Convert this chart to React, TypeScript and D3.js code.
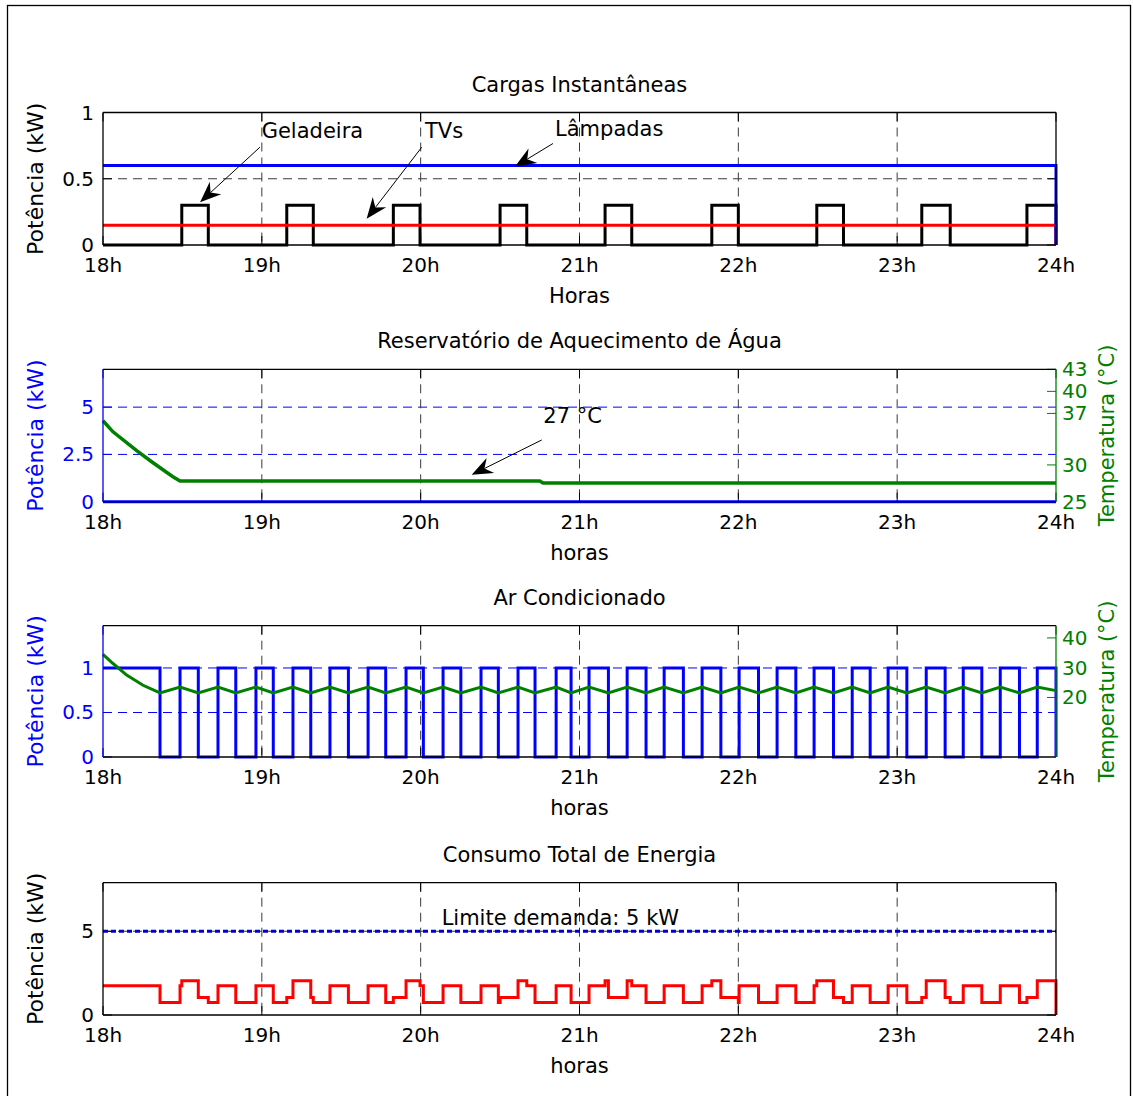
import React from 'react';
import * as d3 from 'd3';

// ---------- data ----------
const hourTicks = [18, 19, 20, 21, 22, 23, 24];
const hourLabels = ['18h', '19h', '20h', '21h', '22h', '23h', '24h'];

// Panel 1: Cargas instantâneas (kW)
const lampKW = 0.6;
const tvKW = 0.15;
const fridgeKW = 0.3;
const fridgeOn: [number, number][] = [
  [18.496, 18.663], [19.157, 19.324], [19.828, 19.996], [20.5, 20.668],
  [21.161, 21.329], [21.833, 22.0], [22.494, 22.662], [23.155, 23.334], [23.817, 24.0],
];

// Panel 2: Reservatório de aquecimento de água
const waterKW = 0;
const waterTemp: [number, number][] = [
  [18.0, 36.0], [18.063, 34.5], [18.214, 31.9], [18.315, 30.3], [18.44, 28.4],
  [18.485, 27.8], [20.75, 27.8], [20.77, 27.55], [24.0, 27.55],
];

// Panel 3: Ar condicionado
const acKW = 1;
const acOn: [number, number][] = [
  [18.0, 18.359], [18.485, 18.6], [18.724, 18.836], [18.963, 19.072], [19.196, 19.308],
  [19.429, 19.545], [19.669, 19.78], [19.908, 20.017], [20.141, 20.253], [20.38, 20.489],
  [20.613, 20.72], [20.853, 20.947], [21.06, 21.182], [21.3, 21.419], [21.533, 21.654],
  [21.772, 21.89], [22.005, 22.127], [22.244, 22.362], [22.477, 22.599], [22.717, 22.83],
  [22.943, 23.061], [23.183, 23.302], [23.416, 23.533], [23.649, 23.77], [23.882, 24.0],
];
const acTemp: [number, number][] = [
  [18.0, 34.5], [18.063, 31.4], [18.149, 27.5], [18.252, 24.1], [18.359, 21.5],
  [18.485, 23.5], [18.6, 21.5], [18.724, 23.5], [18.836, 21.5], [18.963, 23.5], [19.072, 21.5],
  [19.196, 23.5], [19.308, 21.5], [19.429, 23.5], [19.545, 21.5], [19.669, 23.5], [19.78, 21.5],
  [19.908, 23.5], [20.017, 21.5], [20.141, 23.5], [20.253, 21.5], [20.38, 23.5], [20.489, 21.5],
  [20.613, 23.5], [20.72, 21.5], [20.853, 23.5], [20.947, 21.5], [21.06, 23.5], [21.182, 21.5],
  [21.3, 23.5], [21.419, 21.5], [21.533, 23.5], [21.654, 21.5], [21.772, 23.5], [21.89, 21.5],
  [22.005, 23.5], [22.127, 21.5], [22.244, 23.5], [22.362, 21.5], [22.477, 23.5], [22.599, 21.5],
  [22.717, 23.5], [22.83, 21.5], [22.943, 23.5], [23.061, 21.5], [23.183, 23.5], [23.302, 21.5],
  [23.416, 23.5], [23.533, 21.5], [23.649, 23.5], [23.77, 21.5], [23.882, 23.5], [24.0, 22.3],
];

// Panel 4: Consumo total
const demandLimitKW = 5;

// axis ticks
const p1Ticks = [0, 0.5, 1];
const p1TickLabels = ['0', '0.5', '1'];
const p2Ticks = [0, 2.5, 5];
const p2TickLabels = ['0', '2.5', '5'];
const p2TempTicks = [25, 30, 37, 40, 43];
const p3Ticks = [0, 0.5, 1];
const p3TickLabels = ['0', '0.5', '1'];
const p3TempTicks = [20, 30, 40];
const p4Ticks = [0, 5];

// ---------- helpers ----------
const T0 = 18, T1 = 24;
const isOn = (iv: [number, number][], t: number) => iv.some(([s, e]) => t >= s && t < e);

function stepSeries(breaks: number[], f: (t: number) => number): [number, number][] {
  const bs = Array.from(new Set([T0, ...breaks, T1])).sort((a, b) => a - b);
  const pts: [number, number][] = [];
  let prev = 0;
  bs.forEach((t, i) => {
    const v = t >= T1 ? 0 : f(t);
    if (i > 0) pts.push([t, prev]);
    pts.push([t, v]);
    prev = v;
  });
  return pts;
}
const flat = (iv: [number, number][]) => iv.flat();

const lampSeries = stepSeries([], () => lampKW);
const tvSeries = stepSeries([], () => tvKW);
const fridgeSeries = stepSeries(flat(fridgeOn), (t) => (isOn(fridgeOn, t) ? fridgeKW : 0));
const waterSeries = stepSeries([], () => waterKW);
const acSeries = stepSeries(flat(acOn), (t) => (isOn(acOn, t) ? acKW : 0));
const totalSeries = stepSeries([...flat(fridgeOn), ...flat(acOn)], (t) =>
  lampKW + tvKW + waterKW + (isOn(fridgeOn, t) ? fridgeKW : 0) + (isOn(acOn, t) ? acKW : 0));

// ---------- layout ----------
const X0 = 103, X1 = 1056;
const x = d3.scaleLinear().domain([T0, T1]).range([X0, X1]);
const FONT = 'DejaVu Sans';
const TICK_FS = 20;
const LAB_FS = 21;
const YLAB_FS = 22;
const BLUE = '#0000FF', GREEN = '#008000', RED = '#FF0000';
const GRID = '#3a3a3a';
const TL = 9;

const panels = [
  { top: 112.5, bottom: 245 },
  { top: 369.3, bottom: 501.7 },
  { top: 625.7, bottom: 757 },
  { top: 882.7, bottom: 1015 },
];

const y1 = d3.scaleLinear().domain([0, 1]).range([panels[0].bottom, panels[0].top]);
const y2 = d3.scaleLinear().domain([0, 7]).range([panels[1].bottom, panels[1].top]);
const y2t = d3.scaleLinear().domain([25, 43]).range([panels[1].bottom, panels[1].top]);
const y3 = d3.scaleLinear().domain([0, 1.475]).range([panels[2].bottom, panels[2].top]);
const y3t = d3.scaleLinear().domain([0, 44.1]).range([panels[2].bottom, panels[2].top]);
const y4 = d3.scaleLinear().domain([0, 7.9]).range([panels[3].bottom, panels[3].top]);

const path = (pts: [number, number][], ys: d3.ScaleLinear<number, number>) =>
  d3.line<[number, number]>().x((d) => x(d[0])).y((d) => ys(d[1]))(pts) || '';

function Arrow({ x1, y1: yy1, x2, y2: yy2 }: { x1: number; y1: number; x2: number; y2: number }) {
  const L = 21, w = 8.5;
  const dx = x2 - x1, dy = yy2 - yy1;
  const len = Math.hypot(dx, dy);
  const ux = dx / len, uy = dy / len;
  const nx = -uy, ny = ux;
  const bx = x2 - L * ux, by = yy2 - L * uy;
  const mx = x2 - 0.68 * L * ux, my = yy2 - 0.68 * L * uy;
  const head = `M${x2},${yy2}L${bx + w * nx},${by + w * ny}L${mx},${my}L${bx - w * nx},${by - w * ny}Z`;
  return (
    <g>
      <line x1={x1} y1={yy1} x2={mx} y2={my} stroke="#000" strokeWidth={1} />
      <path d={head} fill="#000" />
    </g>
  );
}

function XAxis({ top, bottom, label }: { top: number; bottom: number; label: string }) {
  return (
    <g>
      {hourTicks.slice(1, -1).map((t) => (
        <line key={'g' + t} x1={x(t)} x2={x(t)} y1={top} y2={bottom} stroke={GRID} strokeWidth={1} strokeDasharray="9,6" />
      ))}
      {hourTicks.map((t) => (
        <g key={'t' + t}>
          <line x1={x(t)} x2={x(t)} y1={bottom} y2={bottom - TL} stroke="#000" />
          <line x1={x(t)} x2={x(t)} y1={top} y2={top + TL} stroke="#000" />
        </g>
      ))}
      {hourTicks.map((t, i) => (
        <text key={'l' + t} x={x(t)} y={bottom + 27} textAnchor="middle" fontSize={TICK_FS} fontFamily={FONT}>{hourLabels[i]}</text>
      ))}
      <text x={(X0 + X1) / 2} y={bottom + 58} textAnchor="middle" fontSize={LAB_FS} fontFamily={FONT}>{label}</text>
    </g>
  );
}

function Title({ top, text }: { top: number; text: string }) {
  return <text x={(X0 + X1) / 2} y={top - 21} textAnchor="middle" fontSize={LAB_FS} fontFamily={FONT}>{text}</text>;
}

function YLabel({ top, bottom, text, color, right }: { top: number; bottom: number; text: string; color: string; right?: boolean }) {
  const cx = right ? 1114 : 43;
  const cy = (top + bottom) / 2;
  return (
    <text transform={`translate(${cx},${cy}) rotate(-90)`} textAnchor="middle" fontSize={right ? LAB_FS : YLAB_FS} fontFamily={FONT} fill={color}>{text}</text>
  );
}

function LeftTicks({ ys, ticks, labels, color, grid, gridColor, mirror }: any) {
  return (
    <g>
      {grid && ticks.filter((t: number) => ys(t) > ys.range()[1] + 1 && ys(t) < ys.range()[0] - 1).map((t: number) => (
        <line key={'g' + t} x1={X0} x2={X1} y1={ys(t)} y2={ys(t)} stroke={gridColor} strokeWidth={1} strokeDasharray="9,6" />
      ))}
      {ticks.map((t: number, i: number) => (
        <g key={'t' + t}>
          <line x1={X0} x2={X0 + TL} y1={ys(t)} y2={ys(t)} stroke={color} />
          {mirror && <line x1={X1} x2={X1 - TL} y1={ys(t)} y2={ys(t)} stroke={color} />}
          <text x={X0 - 9} y={ys(t) + 7} textAnchor="end" fontSize={TICK_FS} fontFamily={FONT} fill={color}>{labels[i]}</text>
        </g>
      ))}
    </g>
  );
}

function RightTicks({ ys, ticks }: any) {
  return (
    <g>
      {ticks.map((t: number) => (
        <g key={'r' + t}>
          <line x1={X1} x2={X1 - TL} y1={ys(t)} y2={ys(t)} stroke={GREEN} />
          <text x={X1 + 6} y={ys(t) + 7} textAnchor="start" fontSize={TICK_FS} fontFamily={FONT} fill={GREEN}>{t}</text>
        </g>
      ))}
    </g>
  );
}

function Box({ top, bottom, left, right }: { top: number; bottom: number; left: string; right: string }) {
  return (
    <g>
      <line x1={X0} x2={X1} y1={top} y2={top} stroke="#000" strokeWidth={1.3} />
      <line x1={X0} x2={X1} y1={bottom} y2={bottom} stroke="#000" strokeWidth={1.3} />
      <line x1={X0} x2={X0} y1={top} y2={bottom} stroke={left} strokeWidth={1.3} />
      <line x1={X1} x2={X1} y1={top} y2={bottom} stroke={right} strokeWidth={1.3} />
    </g>
  );
}

export default function App() {
  const [p1, p2, p3, p4] = panels;
  return (
    <svg width={1133} height={1096} style={{ position: 'absolute', left: 0, top: 0, background: '#fff' }}>
      <rect x={0} y={0} width={1133} height={1096} fill="#fff" />
      <rect x={7.5} y={5.5} width={1123} height={1100} fill="none" stroke="#000" strokeWidth={1.3} />

      {/* Panel 1 */}
      <Title top={p1.top} text="Cargas Instantâneas" />
      <LeftTicks ys={y1} ticks={p1Ticks} labels={p1TickLabels} color="#000" grid gridColor={GRID} mirror />
      <XAxis top={p1.top} bottom={p1.bottom} label="Horas" />
      <path d={path(fridgeSeries, y1)} fill="none" stroke="#000" strokeWidth={3} />
      <path d={path(tvSeries, y1)} fill="none" stroke={RED} strokeWidth={3} />
      <path d={path(lampSeries, y1)} fill="none" stroke={BLUE} strokeWidth={3} />
      <Box top={p1.top} bottom={p1.bottom} left="#000" right="#000" />
      <YLabel top={p1.top} bottom={p1.bottom} text="Potência (kW)" color="#000" />
      <text x={x(18.999)} y={y1(0.811)} fontSize={LAB_FS} fontFamily={FONT}>Geladeira</text>
      <Arrow x1={x(18.988)} y1={y1(0.738)} x2={x(18.611)} y2={y1(0.323)} />
      <text x={x(20.027)} y={y1(0.811)} fontSize={LAB_FS} fontFamily={FONT}>TVs</text>
      <Arrow x1={x(20.007)} y1={y1(0.738)} x2={x(19.66)} y2={y1(0.198)} />
      <text x={x(20.846)} y={y1(0.825)} fontSize={LAB_FS} fontFamily={FONT}>Lâmpadas</text>
      <Arrow x1={x(20.833)} y1={y1(0.766)} x2={x(20.594)} y2={y1(0.592)} />

      {/* Panel 2 */}
      <Title top={p2.top} text="Reservatório de Aquecimento de Água" />
      <LeftTicks ys={y2} ticks={p2Ticks} labels={p2TickLabels} color={BLUE} grid gridColor={BLUE} />
      <RightTicks ys={y2t} ticks={p2TempTicks} />
      <XAxis top={p2.top} bottom={p2.bottom} label="horas" />
      <path d={path(waterTemp, y2t)} fill="none" stroke={GREEN} strokeWidth={3.5} />
      <path d={path(waterSeries, y2)} fill="none" stroke={BLUE} strokeWidth={3} />
      <Box top={p2.top} bottom={p2.bottom} left={BLUE} right={GREEN} />
      <YLabel top={p2.top} bottom={p2.bottom} text="Potência (kW)" color={BLUE} />
      <YLabel top={p2.top} bottom={p2.bottom} text="Temperatura (°C)" color={GREEN} right />
      <text x={x(20.772)} y={y2t(35.65)} fontSize={LAB_FS} fontFamily={FONT}>27 °C</text>
      <Arrow x1={x(20.762)} y1={y2t(33.39)} x2={x(20.321)} y2={y2t(28.65)} />

      {/* Panel 3 */}
      <Title top={p3.top} text="Ar Condicionado" />
      <LeftTicks ys={y3} ticks={p3Ticks} labels={p3TickLabels} color={BLUE} grid gridColor={BLUE} />
      <RightTicks ys={y3t} ticks={p3TempTicks} />
      <XAxis top={p3.top} bottom={p3.bottom} label="horas" />
      <path d={path(acSeries, y3)} fill="none" stroke={BLUE} strokeWidth={3} />
      <path d={path(acTemp, y3t)} fill="none" stroke={GREEN} strokeWidth={3} />
      <Box top={p3.top} bottom={p3.bottom} left={BLUE} right={GREEN} />
      <YLabel top={p3.top} bottom={p3.bottom} text="Potência (kW)" color={BLUE} />
      <YLabel top={p3.top} bottom={p3.bottom} text="Temperatura (°C)" color={GREEN} right />

      {/* Panel 4 */}
      <Title top={p4.top} text="Consumo Total de Energia" />
      <LeftTicks ys={y4} ticks={p4Ticks} labels={p4Ticks.map(String)} color="#000" grid gridColor={GRID} mirror />
      <XAxis top={p4.top} bottom={p4.bottom} label="horas" />
      <line x1={x(T0)} x2={x(T1)} y1={y4(demandLimitKW)} y2={y4(demandLimitKW)} stroke="#0000CC" strokeWidth={3} strokeDasharray="5,3" />
      <path d={path(totalSeries, y4)} fill="none" stroke={RED} strokeWidth={3} />
      <Box top={p4.top} bottom={p4.bottom} left="#000" right="#000" />
      <YLabel top={p4.top} bottom={p4.bottom} text="Potência (kW)" color="#000" />
      <text x={x(20.132)} y={y4(5.36)} fontSize={LAB_FS} fontFamily={FONT}>Limite demanda: 5 kW</text>
    </svg>
  );
}
